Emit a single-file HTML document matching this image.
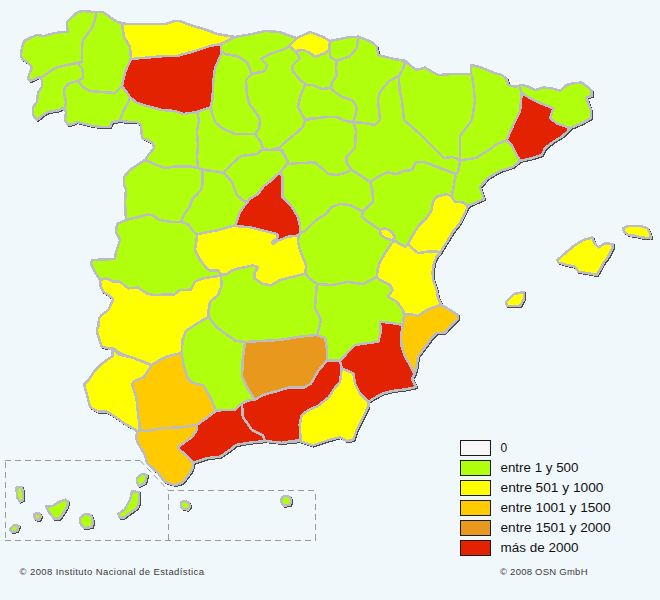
<!DOCTYPE html>
<html><head><meta charset="utf-8"><style>
html,body{margin:0;padding:0;background:#f1f8fc;}
svg{display:block;font-family:"Liberation Sans",sans-serif;}
polygon,polyline{shape-rendering:crispEdges;}
</style></head><body>
<svg width="660" height="600" viewBox="0 0 660 600">
<rect width="660" height="600" fill="#f1f8fc"/>
<polygon points="78,12 83,11 93,12 103,12 110,17 117,22 122,23 127,24 165,24 175,21 180,21 190,25 207,30 217,34 235,37 252,34 265,31 280,32 290,36 297,38 310,32 313,33 323,37 330,41 340,39 350,37 358.3,36.7 366.7,40 373.3,43.3 376.7,46.7 378.3,55 385,56.7 395,59.2 405,60.8 411.7,66.7 416.7,70 425,67.5 431.7,71.7 438.3,75 450,74.2 471,74 471,65 480,67 495,73.3 501.7,75 506.7,79 508.3,85 515,86.7 521.7,85 528.3,86.7 535,90 543.3,87.5 551.7,88.3 560,90.8 566.7,85 573.3,83.3 581.7,82.5 588.3,87.5 591.7,90.8 591.7,95.8 586.7,97.5 588.3,103.3 590.8,110 590.8,118.3 581.7,123.3 571.7,127.5 568.3,130.8 561.7,136.7 553.3,141.7 545,148.3 541.7,155 531.7,158.3 520,160.8 513.3,166.7 500,171 488,178 480,187 484,199 468,206 465,213 460,223 453,231.7 448,240 443,248 440,253.3 436.7,256.7 434,263 432.5,273 433.3,280 436.7,290 438,298 441.7,305 450,310 458,315 458,319 451.7,325 445,332.5 436.7,333 431.7,338 426.7,345 421.7,351.7 418,356.7 416.7,366.7 415,373.3 412,379 416,387 406.7,389.2 393.3,390.8 383.3,393.3 376.7,396.7 368.3,401.7 368.3,406.7 361.7,420 356.7,430 353.3,440 347,441 340,437.2 329,440 312.6,445.5 299.7,441 281.4,442.8 264.9,441 248.3,442.8 236,445 230,450 220,456.7 208,458 201.7,460 193,463 193,465 192,470 187,477 182,483 175,485 165,482 158,473 147,463 145,455 138,443 136,438 139,433 135,429.5 124.5,423.5 114,416 106.5,411.5 97.5,411.5 90,407 87,395 84,384.5 88.5,380 94.5,371 102,363.5 112.5,356 112.5,350 113.3,348.3 108.3,348.3 101.7,346.7 98.3,336.7 96.7,330 98.3,326.7 99,318.3 101.7,315 108.3,310 113.3,299 108.3,295 103.3,291.7 100.8,286.7 100,280 95,272 91,264 92,260 115,259 116,252 120,240 116,232 117,224 126,220 125,202 126,189 124,185 124,177 130,170 137,165 145,160 150,153 154,148 153,143 147,140 142,138 141,125 137,122 130,122 120,121 112,122 110,127 102,127 93,126 85,124 77,122 73,124 68,125 65,120 66,112 63,108 60,110 48,112 43,115 37,120 33,115 33,107 37,102 38,93 42,87 42,80 39,77 35,79 30,81 28,78 30,72 32,67 27,62 22,59 21,55 22,48 24,41 30,38 37,35 44,36 55,33 63,32 68,32 67,25 67,22 72,17" transform="translate(0.9,0.9)" fill="#4a4a4a" stroke="#4a4a4a" stroke-width="2.5" stroke-linejoin="round"/>
<polygon points="557.5,260 565,253.3 575,245 583.3,240 592.5,237.5 594,242.5 598.3,247.5 605,243.3 612.5,244 612.5,248.3 608.3,256.7 603.3,263.3 600,270 596.7,275 588.3,273.3 578.3,271.7 575,266.7 566.7,265 558.3,262.5" transform="translate(0.9,0.9)" fill="#4a4a4a" stroke="#4a4a4a" stroke-width="2.5" stroke-linejoin="round"/>
<polygon points="623.3,228.3 628.3,225.8 640,225.8 647.5,228.3 650,233.3 650.8,238.3 641.7,237.5 635,235.8 628.3,235 624,231.7" transform="translate(0.9,0.9)" fill="#4a4a4a" stroke="#4a4a4a" stroke-width="2.5" stroke-linejoin="round"/>
<polygon points="506,302 514,294 524,292 524,299 520,306 507,306" transform="translate(0.9,0.9)" fill="#4a4a4a" stroke="#4a4a4a" stroke-width="2.5" stroke-linejoin="round"/>
<polygon points="16.5,487.5 22,487 23,494 23,500 20,501.5 17,497" transform="translate(0.9,0.9)" fill="#4a4a4a" stroke="#4a4a4a" stroke-width="2.5" stroke-linejoin="round"/>
<polygon points="10,529 14,525 19,526 17,531 12,532" transform="translate(0.9,0.9)" fill="#4a4a4a" stroke="#4a4a4a" stroke-width="2.5" stroke-linejoin="round"/>
<polygon points="34,514 39,513 41,517 39,520 35,519" transform="translate(0.9,0.9)" fill="#4a4a4a" stroke="#4a4a4a" stroke-width="2.5" stroke-linejoin="round"/>
<polygon points="46,506.6 52.5,506 59.7,501.6 65.4,499.6 68.3,501.6 67,507 62.5,514.5 59.7,518.5 54,518.5 49.6,513" transform="translate(0.9,0.9)" fill="#4a4a4a" stroke="#4a4a4a" stroke-width="2.5" stroke-linejoin="round"/>
<polygon points="80,518 85,514 91,515 93,521 92,527 84,528 80,523" transform="translate(0.9,0.9)" fill="#4a4a4a" stroke="#4a4a4a" stroke-width="2.5" stroke-linejoin="round"/>
<polygon points="132,491.5 139,492 139,503 137,508 130,513 124,517.5 120,518 118.5,514 125,509 130,500" transform="translate(0.9,0.9)" fill="#4a4a4a" stroke="#4a4a4a" stroke-width="2.5" stroke-linejoin="round"/>
<polygon points="137,478 142,474 147,475 145,483 139,486 137,482" transform="translate(0.9,0.9)" fill="#4a4a4a" stroke="#4a4a4a" stroke-width="2.5" stroke-linejoin="round"/>
<polygon points="181,502 185,501 189,503 190,507 188,509.5 183,509 181,506" transform="translate(0.9,0.9)" fill="#4a4a4a" stroke="#4a4a4a" stroke-width="2.5" stroke-linejoin="round"/>
<polygon points="282,497 286,496 290,497 291,501 290,505 284,505.5 281,502" transform="translate(0.9,0.9)" fill="#4a4a4a" stroke="#4a4a4a" stroke-width="2.5" stroke-linejoin="round"/>
<polygon points="78,12 83,11 93,12 103,12 110,17 117,22 122,23 127,24 165,24 175,21 180,21 190,25 207,30 217,34 235,37 252,34 265,31 280,32 290,36 297,38 310,32 313,33 323,37 330,41 340,39 350,37 358.3,36.7 366.7,40 373.3,43.3 376.7,46.7 378.3,55 385,56.7 395,59.2 405,60.8 411.7,66.7 416.7,70 425,67.5 431.7,71.7 438.3,75 450,74.2 471,74 471,65 480,67 495,73.3 501.7,75 506.7,79 508.3,85 515,86.7 521.7,85 528.3,86.7 535,90 543.3,87.5 551.7,88.3 560,90.8 566.7,85 573.3,83.3 581.7,82.5 588.3,87.5 591.7,90.8 591.7,95.8 586.7,97.5 588.3,103.3 590.8,110 590.8,118.3 581.7,123.3 571.7,127.5 568.3,130.8 561.7,136.7 553.3,141.7 545,148.3 541.7,155 531.7,158.3 520,160.8 513.3,166.7 500,171 488,178 480,187 484,199 468,206 465,213 460,223 453,231.7 448,240 443,248 440,253.3 436.7,256.7 434,263 432.5,273 433.3,280 436.7,290 438,298 441.7,305 450,310 458,315 458,319 451.7,325 445,332.5 436.7,333 431.7,338 426.7,345 421.7,351.7 418,356.7 416.7,366.7 415,373.3 412,379 416,387 406.7,389.2 393.3,390.8 383.3,393.3 376.7,396.7 368.3,401.7 368.3,406.7 361.7,420 356.7,430 353.3,440 347,441 340,437.2 329,440 312.6,445.5 299.7,441 281.4,442.8 264.9,441 248.3,442.8 236,445 230,450 220,456.7 208,458 201.7,460 193,463 193,465 192,470 187,477 182,483 175,485 165,482 158,473 147,463 145,455 138,443 136,438 139,433 135,429.5 124.5,423.5 114,416 106.5,411.5 97.5,411.5 90,407 87,395 84,384.5 88.5,380 94.5,371 102,363.5 112.5,356 112.5,350 113.3,348.3 108.3,348.3 101.7,346.7 98.3,336.7 96.7,330 98.3,326.7 99,318.3 101.7,315 108.3,310 113.3,299 108.3,295 103.3,291.7 100.8,286.7 100,280 95,272 91,264 92,260 115,259 116,252 120,240 116,232 117,224 126,220 125,202 126,189 124,185 124,177 130,170 137,165 145,160 150,153 154,148 153,143 147,140 142,138 141,125 137,122 130,122 120,121 112,122 110,127 102,127 93,126 85,124 77,122 73,124 68,125 65,120 66,112 63,108 60,110 48,112 43,115 37,120 33,115 33,107 37,102 38,93 42,87 42,80 39,77 35,79 30,81 28,78 30,72 32,67 27,62 22,59 21,55 22,48 24,41 30,38 37,35 44,36 55,33 63,32 68,32 67,25 67,22 72,17" fill="#b0ff0c" stroke="#bcbcc4" stroke-width="2.5" stroke-linejoin="round"/>
<polyline points="96,14 95,20 92,28 83,40 82,48 82,62 77,63" fill="none" stroke="#bcbcc4" stroke-width="2.5" stroke-linejoin="round" stroke-linecap="round"/>
<polyline points="77,63 67,65 55,68 42,77 39,77" fill="none" stroke="#bcbcc4" stroke-width="2.5" stroke-linejoin="round" stroke-linecap="round"/>
<polyline points="77,63 82,68 83,73 83,78 78,81" fill="none" stroke="#bcbcc4" stroke-width="2.5" stroke-linejoin="round" stroke-linecap="round"/>
<polyline points="78,81 70,83 65,87 64,93 66,102 65,108 66,112" fill="none" stroke="#bcbcc4" stroke-width="2.5" stroke-linejoin="round" stroke-linecap="round"/>
<polyline points="78,81 83,87 90,91 102,92 115,93 122,86" fill="none" stroke="#bcbcc4" stroke-width="2.5" stroke-linejoin="round" stroke-linecap="round"/>
<polyline points="130,97 128,103 125,108 121,117 120,121" fill="none" stroke="#bcbcc4" stroke-width="2.5" stroke-linejoin="round" stroke-linecap="round"/>
<polyline points="197,112 199,120 197,132 198,145 197,157 198,168" fill="none" stroke="#bcbcc4" stroke-width="2.5" stroke-linejoin="round" stroke-linecap="round"/>
<polyline points="145,160 155.5,164.5 164.5,168.2 175.5,166.4 190,166.4 199,168.2 204.5,170 219,171.8 224.5,173.6" fill="none" stroke="#bcbcc4" stroke-width="2.5" stroke-linejoin="round" stroke-linecap="round"/>
<polyline points="211,107 212,113 215,122 222,128 235,134 255,134" fill="none" stroke="#bcbcc4" stroke-width="2.5" stroke-linejoin="round" stroke-linecap="round"/>
<polyline points="222,52 225,54 237,56 247,62 252,74 265,71 267,65 261,59 270,54 285,49 289,46" fill="none" stroke="#bcbcc4" stroke-width="2.5" stroke-linejoin="round" stroke-linecap="round"/>
<polyline points="252,74 246,80 247,95 248,100 250,105 257,114 260,120 259,129 255,134" fill="none" stroke="#bcbcc4" stroke-width="2.5" stroke-linejoin="round" stroke-linecap="round"/>
<polyline points="255,134 261,142 263,149 257,154 241,156 232,164 224,172" fill="none" stroke="#bcbcc4" stroke-width="2.5" stroke-linejoin="round" stroke-linecap="round"/>
<polyline points="263,149 270,150 279,148 283,144 294,135 303,127 305,120 312,118" fill="none" stroke="#bcbcc4" stroke-width="2.5" stroke-linejoin="round" stroke-linecap="round"/>
<polyline points="279,148 287,159 288,164 300,163 315,162.5 321.7,168 328,174 336.7,175 345,173 351.7,170 360,175 370,181.7" fill="none" stroke="#bcbcc4" stroke-width="2.5" stroke-linejoin="round" stroke-linecap="round"/>
<polyline points="287,164 280,172.7" fill="none" stroke="#bcbcc4" stroke-width="2.5" stroke-linejoin="round" stroke-linecap="round"/>
<polyline points="224,173 232,182 237,195 244,201 250,201" fill="none" stroke="#bcbcc4" stroke-width="2.5" stroke-linejoin="round" stroke-linecap="round"/>
<polyline points="202.7,170 202.7,182.7 201,190 191.8,200 190,206.4 184.5,213.6 181,221.8" fill="none" stroke="#bcbcc4" stroke-width="2.5" stroke-linejoin="round" stroke-linecap="round"/>
<polyline points="181,221.8 188.2,224.5 193.6,231.8 197.3,234.5" fill="none" stroke="#bcbcc4" stroke-width="2.5" stroke-linejoin="round" stroke-linecap="round"/>
<polyline points="126,220 137.3,217.3 148.2,214.5 153.6,215.5 159,220 170,221.8 181,221.8" fill="none" stroke="#bcbcc4" stroke-width="2.5" stroke-linejoin="round" stroke-linecap="round"/>
<polyline points="295,51 300,58 293,65 292,70 300,80 307,85 313,85 322,89 330,88 335,92 342,97 352,100 357,107 355,117 353,122 345,121 337,117 328,117 317,118 305,120" fill="none" stroke="#bcbcc4" stroke-width="2.5" stroke-linejoin="round" stroke-linecap="round"/>
<polyline points="305,85 300,97 298,107 305,120" fill="none" stroke="#bcbcc4" stroke-width="2.5" stroke-linejoin="round" stroke-linecap="round"/>
<polyline points="330,41 330,57 337,61 350,56 357,48 358,38" fill="none" stroke="#bcbcc4" stroke-width="2.5" stroke-linejoin="round" stroke-linecap="round"/>
<polyline points="337,61 336,68 337,75 332,83 331,88" fill="none" stroke="#bcbcc4" stroke-width="2.5" stroke-linejoin="round" stroke-linecap="round"/>
<polyline points="353,122 356,130 355,148 346.7,156.7 346.7,163 351.7,170" fill="none" stroke="#bcbcc4" stroke-width="2.5" stroke-linejoin="round" stroke-linecap="round"/>
<polyline points="353,122 365,123 375,125 380,120 379,110 378,100 380,92 383.3,88.3 388.3,81.7 399,76" fill="none" stroke="#bcbcc4" stroke-width="2.5" stroke-linejoin="round" stroke-linecap="round"/>
<polyline points="405,61.5 403.3,68.3 399,76 399.5,90 402,100 404,120 420,134 440,154 444,158 452,157 458,159 460,162" fill="none" stroke="#bcbcc4" stroke-width="2.5" stroke-linejoin="round" stroke-linecap="round"/>
<polyline points="472,75 474,90 475,100 472,120 460,136 460,162" fill="none" stroke="#bcbcc4" stroke-width="2.5" stroke-linejoin="round" stroke-linecap="round"/>
<polyline points="521.7,93.3 520,86.7" fill="none" stroke="#bcbcc4" stroke-width="2.5" stroke-linejoin="round" stroke-linecap="round"/>
<polyline points="506.7,140 495,145 492,148 476,158 462,160 460,162" fill="none" stroke="#bcbcc4" stroke-width="2.5" stroke-linejoin="round" stroke-linecap="round"/>
<polyline points="460,162 458,172 456,174 451.7,196.7" fill="none" stroke="#bcbcc4" stroke-width="2.5" stroke-linejoin="round" stroke-linecap="round"/>
<polyline points="370,181.7 380,175.8 386.7,172.5 396.7,174 403,171 412,170 416,162 424,162 440,168 456,174" fill="none" stroke="#bcbcc4" stroke-width="2.5" stroke-linejoin="round" stroke-linecap="round"/>
<polyline points="370,181.7 372.5,190 373,201.7 363,211.7 361.7,216.7 370,223.3 376.7,227.5 380,230" fill="none" stroke="#bcbcc4" stroke-width="2.5" stroke-linejoin="round" stroke-linecap="round"/>
<polyline points="299.8,232.8 304.5,231.4 310,226 315.5,220.5 326.4,213.6 331.8,206.8 340,204 350,205 363,211.7" fill="none" stroke="#bcbcc4" stroke-width="2.5" stroke-linejoin="round" stroke-linecap="round"/>
<polyline points="262,150 282,150 287,160" fill="none" stroke="#bcbcc4" stroke-width="2.5" stroke-linejoin="round" stroke-linecap="round"/>
<polyline points="305.5,273.6 309,278.2 313,281 317,284 316,293 315,308 321,320 318,332 317,335" fill="none" stroke="#bcbcc4" stroke-width="2.5" stroke-linejoin="round" stroke-linecap="round"/>
<polyline points="317,284 332,285 348,282 363,284 377,277" fill="none" stroke="#bcbcc4" stroke-width="2.5" stroke-linejoin="round" stroke-linecap="round"/>
<polyline points="208.7,317 216.3,326.8 225,333.3 235.8,340.9 245,342" fill="none" stroke="#bcbcc4" stroke-width="2.5" stroke-linejoin="round" stroke-linecap="round"/>
<polyline points="327.2,360.2 340,360.8" fill="none" stroke="#bcbcc4" stroke-width="2.5" stroke-linejoin="round" stroke-linecap="round"/>
<polygon points="122,23 127,24 165,24 175,21 180,21 190,25 207,30 217,34 235,37 221,44 210,46 195,51 177,56 165,56 131,59 130,47 124,37" fill="#ffff00" stroke="#bcbcc4" stroke-width="2.5" stroke-linejoin="round"/>
<polygon points="131,59 165,56 177,56 195,51 210,46 221,44 220.8,55 215,68.3 213.3,81.7 212.5,98.3 211,107 197,112 183,114 175,111 162,110 147,106 137,103 130,97 122,86 125,72" fill="#e22200" stroke="#bcbcc4" stroke-width="2.5" stroke-linejoin="round"/>
<polygon points="289,46 297,38 310,32 313,33 323,37 330,41 329,50 325,53 315,57 310,53 303,50 295,51" fill="#ffff00" stroke="#bcbcc4" stroke-width="2.5" stroke-linejoin="round"/>
<polygon points="521.7,93.3 536.7,101.7 553.3,108.3 550,118.3 556.7,123.3 568.3,127.5 568.3,130.8 561.7,136.7 553.3,141.7 545,148.3 541.7,155 531.7,158.3 520,160.8 516.7,155 511.7,145 506.7,140 513.3,125 520,111.7" fill="#e22200" stroke="#bcbcc4" stroke-width="2.5" stroke-linejoin="round"/>
<polygon points="280,172.7 282.7,176.8 282.7,197.3 291,205.5 297.7,216.4 299.8,224.6 299.8,234 297.7,235.5 288,236.8 277,241 273,244.3 271.8,242.3 277.3,238 277.3,234 266.4,231.4 255.5,228.7 250,227.3 235,226 240,212 245,205 250,198.6 258,193.9 263.6,186.4 270.5,181 276,175.5" fill="#e22200" stroke="#bcbcc4" stroke-width="2.5" stroke-linejoin="round"/>
<polygon points="197.3,234.5 204.5,232.7 219,230 230,226.4 235,226 250,227.3 255.5,228.7 266.4,231.4 277.3,234 277.3,238 271.8,242.3 273,244.3 277,241 288,236.8 297.7,235.5 299.8,234 297.7,241 300,250 306,265 305.5,273.6 291,277.3 280,280 271,285.5 261.8,283.6 254.5,278.2 254.5,272.7 258.2,267.3 252.7,265.5 236.4,269 231.8,270.5 226.4,274.6 221,274.6 218.2,270.5 210,270.5 206,267.7 199,258.2 195,250" fill="#ffff00" stroke="#bcbcc4" stroke-width="2.5" stroke-linejoin="round"/>
<polygon points="433,201.7 436.7,196.7 446.7,194 451.7,196.7 455,201.7 463,202.5 468,206 465,213 460,223 453,231.7 448,240 443,248 440,253.3 438,251.7 428,251.7 418,253 411.7,248 408,244 411.7,236.7 418,226.7 426.7,218 431.7,210" fill="#ffff00" stroke="#bcbcc4" stroke-width="2.5" stroke-linejoin="round"/>
<polygon points="391.7,243.3 395,240.8 400,244 405,246.7 408,244 411.7,248 418,253 428,251.7 438,251.7 440,253.3 436.7,256.7 434,263 432.5,273 433.3,280 436.7,290 438,298 441.7,305 436.7,306 426.7,310 418,316 410,314 404,315 403,310 396.7,301.7 388,296.7 392.5,290 390,285 380,280 377,277 377.5,270 380,261.7 385,253.3" fill="#ffff00" stroke="#bcbcc4" stroke-width="2.5" stroke-linejoin="round"/>
<polygon points="100,280 106.7,278.3 113.3,281.7 120,281.7 128.3,288.3 138.3,287.5 146.7,293.3 153.3,295 174.5,294.3 180,290.2 191,289.6 195,281.4 204.6,278 218.2,276 221,275.5 221.6,285.5 218.2,295 210,301.8 208.7,310 208.7,317 196.8,323.5 186,331 182.7,339.8 181.6,352.8 166.7,356.7 160,360 151.7,365 143.3,361.7 130,356.7 120,353.3 113.3,348.3 108.3,348.3 101.7,346.7 98.3,336.7 96.7,330 98.3,326.7 99,318.3 101.7,315 108.3,310 113.3,299 108.3,295 103.3,291.7 100.8,286.7" fill="#ffff00" stroke="#bcbcc4" stroke-width="2.5" stroke-linejoin="round"/>
<polygon points="112.5,350 113.3,348.3 118.5,354.5 132,357.5 147,363.5 151.7,365 144,377 133.5,381.5 132,384.5 136.5,398 138,413 139.5,425 139.5,432.5 135,429.5 124.5,423.5 114,416 106.5,411.5 97.5,411.5 90,407 87,395 84,384.5 88.5,380 94.5,371 102,363.5 112.5,356" fill="#ffff00" stroke="#bcbcc4" stroke-width="2.5" stroke-linejoin="round"/>
<polygon points="151.7,365 160,360 166.7,356.7 181.6,352.8 183.8,365.8 188.1,378.7 192.5,383 203.3,385.2 212,400.4 216,411 197,425 180,427.5 163,428 147,431 139.5,432.5 139.5,425 138,413 136.5,398 132,384.5 133.5,381.5 144,377" fill="#ffcb00" stroke="#bcbcc4" stroke-width="2.5" stroke-linejoin="round"/>
<polygon points="140,430 147,431 163,428 180,427.5 197,425 197,430 192,437 178,447 180,450 188,457 193,463 193,465 192,470 187,477 182,483 175,485 165,482 158,473 147,463 145,455 138,443 136,438 137,433" fill="#ffcb00" stroke="#bcbcc4" stroke-width="2.5" stroke-linejoin="round"/>
<polygon points="245,342 260,341 280,340 297,337 317,335 325,338 327.2,350 327.2,360.2 318,371.2 310.7,384 303.4,387.7 288.7,387.7 275.9,391.4 263,395 254.8,399.6 248.3,389.5 242,376.7 242.8,358.3" fill="#e9981e" stroke="#bcbcc4" stroke-width="2.5" stroke-linejoin="round"/>
<polygon points="242,403.3 248.3,400.5 254.8,399.6 263,395 275.9,391.4 288.7,387.7 303.4,387.7 310.7,384 318,371.2 327.2,360.2 340,360.8 341.7,368.3 340,381.7 333.3,390 329,396.9 318,406 309,409.7 301.6,415.2 299.7,424.4 300.6,440 281.4,442.8 264.9,441 263,435.4 252,430 242.8,417" fill="#e22200" stroke="#bcbcc4" stroke-width="2.5" stroke-linejoin="round"/>
<polygon points="341.7,368.3 353.3,373.3 355,383.3 360,393.3 368.3,401.7 368.3,406.7 361.7,420 356.7,430 353.3,440 347,441 340,437.2 329,440 312.6,445.5 299.7,441 300.6,440 299.7,424.4 301.6,415.2 309,409.7 318,406 329,396.9 333.3,390 340,381.7" fill="#ffff00" stroke="#bcbcc4" stroke-width="2.5" stroke-linejoin="round"/>
<polygon points="216,411 222,410 235,410 242,403.3 242.8,417 252,430 263,435.4 264.9,441 248.3,442.8 236,445 230,450 220,456.7 208,458 201.7,460 193,463 188,457 180,450 178,447 192,437 197,430 197,425" fill="#e22200" stroke="#bcbcc4" stroke-width="2.5" stroke-linejoin="round"/>
<polygon points="380,321.7 393.3,323.3 403,325 400.8,335 401.7,346.7 405,356.7 410,365 413.3,371.7 415,373.3 412,379 416,387 406.7,389.2 393.3,390.8 383.3,393.3 376.7,396.7 368.3,401.7 360,393.3 355,383.3 353.3,373.3 341.7,368.3 340,360.8 348.3,351.7 355,345 366.7,343.3 378.3,341.7 380.8,331.7" fill="#e22200" stroke="#bcbcc4" stroke-width="2.5" stroke-linejoin="round"/>
<polygon points="404,315 410,314 418,316 426.7,310 436.7,306 441.7,305 450,310 458,315 458,319 451.7,325 445,332.5 436.7,333 431.7,338 426.7,345 421.7,351.7 418,356.7 416.7,366.7 415,373.3 413.3,371.7 410,365 405,356.7 401.7,346.7 400.8,335 403,325" fill="#ffcb00" stroke="#bcbcc4" stroke-width="2.5" stroke-linejoin="round"/>
<polygon points="380,230 385,228.3 391.7,231.7 395,237.5 391.7,240 385,238 380.8,235" fill="#ffff00" stroke="#bcbcc4" stroke-width="2.5" stroke-linejoin="round"/>
<polygon points="557.5,260 565,253.3 575,245 583.3,240 592.5,237.5 594,242.5 598.3,247.5 605,243.3 612.5,244 612.5,248.3 608.3,256.7 603.3,263.3 600,270 596.7,275 588.3,273.3 578.3,271.7 575,266.7 566.7,265 558.3,262.5" fill="#ffff00" stroke="#bcbcc4" stroke-width="2.5" stroke-linejoin="round"/>
<polygon points="623.3,228.3 628.3,225.8 640,225.8 647.5,228.3 650,233.3 650.8,238.3 641.7,237.5 635,235.8 628.3,235 624,231.7" fill="#ffff00" stroke="#bcbcc4" stroke-width="2.5" stroke-linejoin="round"/>
<polygon points="506,302 514,294 524,292 524,299 520,306 507,306" fill="#ffff00" stroke="#bcbcc4" stroke-width="2.5" stroke-linejoin="round"/>
<polygon points="16.5,487.5 22,487 23,494 23,500 20,501.5 17,497" fill="#b0ff0c" stroke="#bcbcc4" stroke-width="2.5" stroke-linejoin="round"/>
<polygon points="10,529 14,525 19,526 17,531 12,532" fill="#b0ff0c" stroke="#bcbcc4" stroke-width="2.5" stroke-linejoin="round"/>
<polygon points="34,514 39,513 41,517 39,520 35,519" fill="#b0ff0c" stroke="#bcbcc4" stroke-width="2.5" stroke-linejoin="round"/>
<polygon points="46,506.6 52.5,506 59.7,501.6 65.4,499.6 68.3,501.6 67,507 62.5,514.5 59.7,518.5 54,518.5 49.6,513" fill="#b0ff0c" stroke="#bcbcc4" stroke-width="2.5" stroke-linejoin="round"/>
<polygon points="80,518 85,514 91,515 93,521 92,527 84,528 80,523" fill="#b0ff0c" stroke="#bcbcc4" stroke-width="2.5" stroke-linejoin="round"/>
<polygon points="132,491.5 139,492 139,503 137,508 130,513 124,517.5 120,518 118.5,514 125,509 130,500" fill="#b0ff0c" stroke="#bcbcc4" stroke-width="2.5" stroke-linejoin="round"/>
<polygon points="137,478 142,474 147,475 145,483 139,486 137,482" fill="#b0ff0c" stroke="#bcbcc4" stroke-width="2.5" stroke-linejoin="round"/>
<polygon points="181,502 185,501 189,503 190,507 188,509.5 183,509 181,506" fill="#b0ff0c" stroke="#bcbcc4" stroke-width="2.5" stroke-linejoin="round"/>
<polygon points="282,497 286,496 290,497 291,501 290,505 284,505.5 281,502" fill="#b0ff0c" stroke="#bcbcc4" stroke-width="2.5" stroke-linejoin="round"/>
<path d="M5,460.5 H140" fill="none" stroke="#9a9a9a" stroke-width="1" stroke-dasharray="6,4"/>
<path d="M140,460.5 L168,490" fill="none" stroke="#9a9a9a" stroke-width="1" stroke-dasharray="6,4"/>
<path d="M5.5,462 V540" fill="none" stroke="#9a9a9a" stroke-width="1" stroke-dasharray="6,4"/>
<path d="M5,540.5 H316" fill="none" stroke="#9a9a9a" stroke-width="1" stroke-dasharray="6,4"/>
<path d="M168.5,494 V540" fill="none" stroke="#9a9a9a" stroke-width="1" stroke-dasharray="6,4"/>
<path d="M168,490.5 H316" fill="none" stroke="#9a9a9a" stroke-width="1" stroke-dasharray="6,4"/>
<path d="M315.5,494 V540" fill="none" stroke="#9a9a9a" stroke-width="1" stroke-dasharray="6,4"/>
<rect x="460.5" y="440.5" width="30" height="15" fill="#f8f8f8" stroke="#1a1a1a" stroke-width="1"/>
<text x="500.5" y="452" font-size="12" fill="#111">0</text>
<rect x="460.5" y="460.5" width="30" height="15" fill="#b0ff0c" stroke="#1a1a1a" stroke-width="1"/>
<text x="500.5" y="472" font-size="12" fill="#111" textLength="78" lengthAdjust="spacingAndGlyphs">entre 1 y 500</text>
<rect x="460.5" y="480.5" width="30" height="15" fill="#ffff00" stroke="#1a1a1a" stroke-width="1"/>
<text x="500.5" y="492" font-size="12" fill="#111" textLength="103" lengthAdjust="spacingAndGlyphs">entre 501 y 1000</text>
<rect x="460.5" y="500.5" width="30" height="15" fill="#ffcb00" stroke="#1a1a1a" stroke-width="1"/>
<text x="500.5" y="512" font-size="12" fill="#111" textLength="110" lengthAdjust="spacingAndGlyphs">entre 1001 y 1500</text>
<rect x="460.5" y="520.5" width="30" height="15" fill="#e9981e" stroke="#1a1a1a" stroke-width="1"/>
<text x="500.5" y="532" font-size="12" fill="#111" textLength="110" lengthAdjust="spacingAndGlyphs">entre 1501 y 2000</text>
<rect x="460.5" y="540.5" width="30" height="15" fill="#e22200" stroke="#1a1a1a" stroke-width="1"/>
<text x="500.5" y="552" font-size="12" fill="#111" textLength="78" lengthAdjust="spacingAndGlyphs">m&#225;s de 2000</text>
<text x="19.5" y="575" font-size="9.5" fill="#3a3a3a" textLength="184.5" lengthAdjust="spacing">&#169; 2008 Instituto Nacional de Estad&#237;stica</text>
<text x="500" y="575" font-size="9.5" fill="#3a3a3a" textLength="87.5" lengthAdjust="spacing">&#169; 2008 OSN GmbH</text>
</svg>
</body></html>
